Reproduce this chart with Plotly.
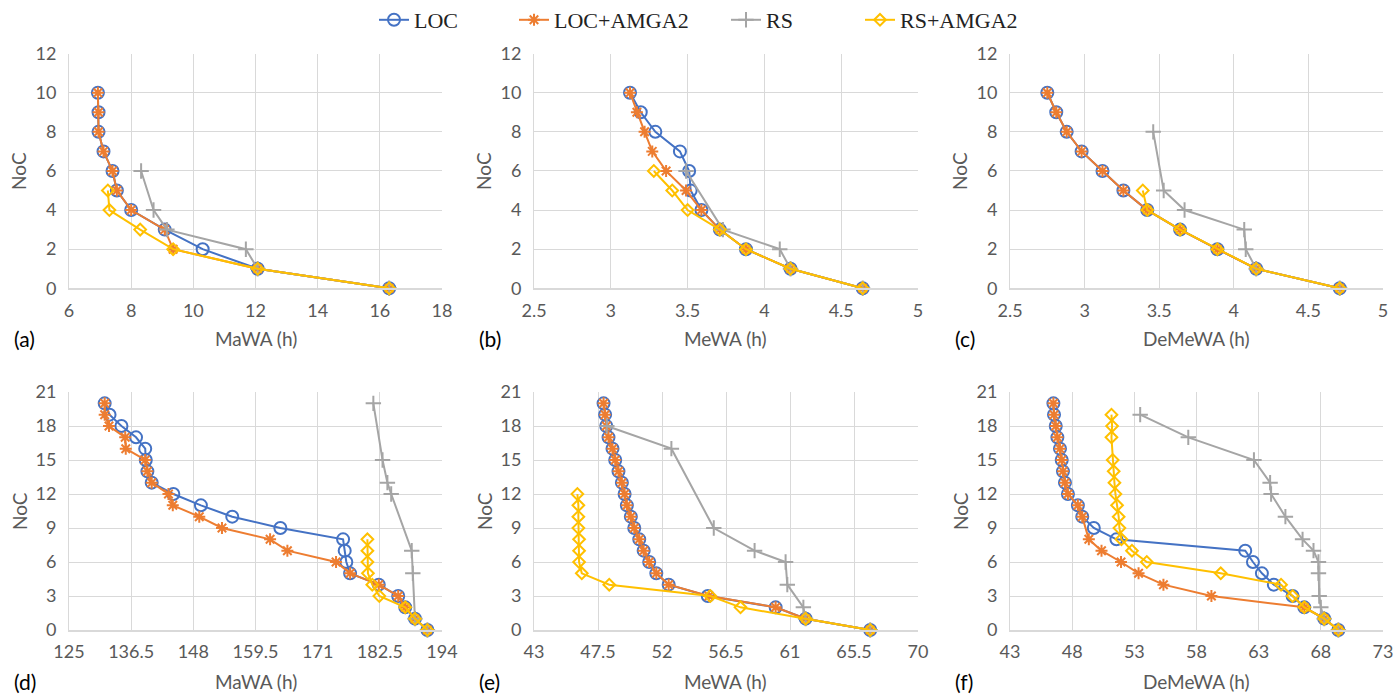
import plotly.graph_objects as go

# ---------------- data ----------------
# Panel (a): MaWA (h), top row
a_loc_y = [10, 9, 8, 7, 6, 5, 4, 3, 2, 1, 0]
a_loc_x = [6.93, 6.95, 6.95, 7.11, 7.40, 7.54, 8.0, 9.08, 10.30, 12.07, 16.3]
a_locam_y = [10, 9, 8, 7, 6, 5, 4, 3, 2, 1, 0]
a_locam_x = [6.93, 6.95, 6.95, 7.11, 7.40, 7.54, 8.0, 9.08, 9.35, 12.07, 16.3]
a_rs_y = [6, 4, 3, 2, 1, 0]
a_rs_x = [8.32, 8.72, 9.15, 11.69, 12.07, 16.3]
a_rsam_y = [5, 4, 3, 2, 1, 0]
a_rsam_x = [7.25, 7.30, 8.29, 9.35, 12.07, 16.3]

# Panel (b): MeWA (h), top row
b_loc_y = [10, 9, 8, 7, 6, 5, 4, 3, 2, 1, 0]
b_loc_x = [3.125, 3.195, 3.29, 3.45, 3.51, 3.52, 3.59, 3.71, 3.88, 4.17, 4.64]
b_locam_y = [10, 9, 8, 7, 6, 5, 4, 3, 2, 1, 0]
b_locam_x = [3.125, 3.17, 3.22, 3.27, 3.36, 3.49, 3.59, 3.71, 3.88, 4.17, 4.64]
b_rs_y = [6, 3, 2, 1, 0]
b_rs_x = [3.49, 3.73, 4.10, 4.17, 4.64]
b_rsam_y = [6, 5, 4, 3, 2, 1, 0]
b_rsam_x = [3.28, 3.40, 3.50, 3.71, 3.88, 4.17, 4.64]

# Panel (c): DeMeWA (h), top row
c_loc_y = [10, 9, 8, 7, 6, 5, 4, 3, 2, 1, 0]
c_loc_x = [2.75, 2.81, 2.88, 2.98, 3.12, 3.26, 3.42, 3.64, 3.89, 4.15, 4.71]
c_locam_y = [10, 9, 8, 7, 6, 5, 4, 3, 2, 1, 0]
c_locam_x = [2.75, 2.81, 2.88, 2.98, 3.12, 3.26, 3.42, 3.64, 3.89, 4.15, 4.71]
c_rs_y = [8, 5, 4, 3, 2, 1, 0]
c_rs_x = [3.46, 3.53, 3.67, 4.07, 4.08, 4.15, 4.71]
c_rsam_y = [5, 4, 3, 2, 1, 0]
c_rsam_x = [3.39, 3.42, 3.64, 3.89, 4.15, 4.71]

# Panel (d): MaWA (h), bottom row
d_loc_y = list(range(20, -1, -1))
d_loc_x = [131.6, 132.5, 134.7, 137.4, 139.1, 139.2, 139.5, 140.3, 144.3, 149.4, 155.2,
           164.1, 175.7, 176.0, 176.3, 177.0, 182.3, 185.9, 187.2, 189.0, 191.3]
d_locam_y = list(range(20, -1, -1))
d_locam_x = [131.6, 131.6, 132.4, 135.4, 135.5, 139.1, 139.5, 140.3, 143.4, 144.2, 149.1,
             153.3, 162.2, 165.4, 174.4, 177.0, 182.3, 185.9, 187.2, 189.0, 191.3]
d_rs_y = [20, 15, 13, 12, 7, 5, 1, 0]
d_rs_x = [181.3, 183.0, 183.9, 184.6, 188.4, 188.6, 189.0, 191.3]
d_rsam_y = [8, 7, 6, 5, 4, 3, 2, 1, 0]
d_rsam_x = [180.2, 180.2, 180.2, 180.3, 181.1, 182.4, 187.2, 189.0, 191.3]

# Panel (e): MeWA (h), bottom row
e_loc_y = list(range(20, -1, -1))
e_loc_x = [47.89, 48.0, 48.08, 48.24, 48.52, 48.71, 48.94, 49.18, 49.37, 49.53, 49.81,
           50.05, 50.40, 50.71, 51.1, 51.6, 52.47, 55.22, 59.99, 62.1, 66.64]
e_locam_y = list(range(20, -1, -1))
e_locam_x = [47.89, 48.0, 48.08, 48.24, 48.52, 48.71, 48.94, 49.18, 49.37, 49.53, 49.81,
             50.05, 50.40, 50.71, 51.1, 51.6, 52.47, 55.3, 59.99, 62.1, 66.64]
e_rs_y = [18, 16, 9, 7, 6, 4, 2, 1, 0]
e_rs_x = [48.12, 52.66, 55.64, 58.51, 60.69, 60.81, 61.94, 62.1, 66.64]
e_rsam_y = [12, 11, 10, 9, 8, 7, 6, 5, 4, 3, 2, 1, 0]
e_rsam_x = [46.05, 46.12, 46.12, 46.12, 46.17, 46.17, 46.17, 46.36, 48.29, 55.4, 57.52, 62.1, 66.64]

# Panel (f): DeMeWA (h), bottom row
f_loc_y = list(range(20, -1, -1))
f_loc_x = [46.49, 46.54, 46.68, 46.81, 47.02, 47.16, 47.26, 47.42, 47.66, 48.46, 48.81,
           49.74, 51.56, 61.92, 62.54, 63.26, 64.22, 65.73, 66.67, 68.27, 69.41]
f_locam_y = [20, 19, 18, 17, 16, 15, 14, 13, 12, 11, 10, 8, 7, 6, 5, 4, 3, 2, 1, 0]
f_locam_x = [46.49, 46.54, 46.68, 46.81, 47.02, 47.16, 47.26, 47.42, 47.66, 48.46, 48.81,
             49.34, 50.36, 51.93, 53.34, 55.34, 59.2, 66.67, 68.27, 69.41]
f_rs_y = [19, 17, 15, 13, 12, 10, 8, 7, 6, 5, 3, 2, 1, 0]
f_rs_x = [53.47, 57.34, 62.62, 63.92, 64.0, 65.15, 66.53, 67.41, 67.81, 67.81, 67.87, 68.0, 68.27, 69.41]
f_rsam_y = [19, 18, 17, 15, 14, 13, 12, 11, 10, 9, 8, 7, 6, 5, 4, 3, 2, 1, 0]
f_rsam_x = [51.16, 51.21, 51.16, 51.26, 51.34, 51.4, 51.48, 51.61, 51.74, 51.8, 51.96,
            52.81, 54.0, 59.95, 64.8, 65.73, 66.67, 68.27, 69.41]

series_names = ["LOC", "LOC+AMGA2", "RS", "RS+AMGA2"]
x_titles = ["MaWA (h)", "MeWA (h)", "DeMeWA (h)", "MaWA (h)", "MeWA (h)", "DeMeWA (h)"]
panel_labels = ["(a)", "(b)", "(c)", "(d)", "(e)", "(f)"]
x_ranges = [(6, 18, 2), (2.5, 5, 0.5), (2.5, 5, 0.5), (125, 194, 11.5), (43, 70, 4.5), (43, 73, 5)]
y_ranges = [(0, 12, 2)] * 3 + [(0, 21, 3)] * 3

panels = [
    [(a_loc_x, a_loc_y), (a_locam_x, a_locam_y), (a_rs_x, a_rs_y), (a_rsam_x, a_rsam_y)],
    [(b_loc_x, b_loc_y), (b_locam_x, b_locam_y), (b_rs_x, b_rs_y), (b_rsam_x, b_rsam_y)],
    [(c_loc_x, c_loc_y), (c_locam_x, c_locam_y), (c_rs_x, c_rs_y), (c_rsam_x, c_rsam_y)],
    [(d_loc_x, d_loc_y), (d_locam_x, d_locam_y), (d_rs_x, d_rs_y), (d_rsam_x, d_rsam_y)],
    [(e_loc_x, e_loc_y), (e_locam_x, e_locam_y), (e_rs_x, e_rs_y), (e_rsam_x, e_rsam_y)],
    [(f_loc_x, f_loc_y), (f_locam_x, f_locam_y), (f_rs_x, f_rs_y), (f_rsam_x, f_rsam_y)],
]

# ---------------- styles ----------------
W, H = 1398, 696
TOP = 44  # top margin (pixels) holding the legend
PH = H - TOP
colors = ["#4472C4", "#ED7D31", "#A5A5A5", "#FFC000"]
symbols = ["circle-open", "asterisk-open", "cross-thin-open", "diamond-open"]
msizes = [12, 10, 11, 9]
legend_ids = ["legend", "legend2", "legend3", "legend4"]
legend_text_start = [419, 559, 771, 905]

col_px = [(69, 442), (534, 918), (1010, 1383)]
row_px = [(53.6, 288.3), (392, 630)]


def px_x(x):
    return x / W


def px_y(y):
    return 1 - (y - TOP) / PH


def xdom(c):
    return [px_x(col_px[c][0]), px_x(col_px[c][1])]


def ydom(r):
    return [px_y(row_px[r][1]), px_y(row_px[r][0])]


fig = go.Figure()
grid = "#D9D9D9"
tickfont = dict(family="Lato", size=18, color="#595959")

layout = dict(width=W, height=H, margin=dict(l=0, r=0, t=TOP, b=0, autoexpand=False),
              plot_bgcolor="white", paper_bgcolor="white", annotations=[])

for p in range(6):
    r, c = divmod(p, 3)
    ax = "" if p == 0 else str(p + 1)
    for s in range(4):
        xs, ys = panels[p][s]
        fig.add_trace(go.Scatter(
            x=xs, y=ys, mode="lines+markers", name=series_names[s],
            xaxis="x" + ax, yaxis="y" + ax,
            line=dict(color=colors[s], width=2),
            marker=dict(symbol=symbols[s], size=msizes[s], color=colors[s],
                        line=dict(color=colors[s], width=2)),
            showlegend=(p == 0), legend=legend_ids[s], cliponaxis=False,
        ))
    x0, x1, dx = x_ranges[p]
    y0, y1, dy = y_ranges[p]
    layout["xaxis" + ax] = dict(domain=xdom(c), anchor="y" + ax, range=[x0, x1],
                                tick0=x0, dtick=dx, showgrid=True, gridcolor=grid,
                                showline=True, linecolor=grid, linewidth=1.5,
                                zeroline=False, ticks="", tickfont=tickfont,
                                ticklabelstandoff=5, automargin=False)
    layout["yaxis" + ax] = dict(domain=ydom(r), anchor="x" + ax, range=[y0, y1],
                                tick0=y0, dtick=dy, showgrid=True, gridcolor=grid,
                                showline=True, linecolor=grid, linewidth=1,
                                zeroline=False, ticks="", tickfont=tickfont,
                                ticklabelstandoff=8, automargin=False)
    # x-axis title
    cx = (col_px[c][0] + col_px[c][1]) / 2
    ty = 338 if r == 0 else 681
    layout["annotations"].append(dict(
        text=x_titles[p], x=px_x(cx), y=px_y(ty), xref="paper", yref="paper",
        xanchor="center", yanchor="middle", showarrow=False,
        font=dict(family="Lato", size=19, color="#595959")))
    # y-axis title
    nx = col_px[c][0] - 50
    ny = (row_px[r][0] + row_px[r][1]) / 2
    layout["annotations"].append(dict(
        text="NoC", x=px_x(nx), y=px_y(ny), xref="paper", yref="paper",
        xanchor="center", yanchor="middle", showarrow=False, textangle=-90,
        font=dict(family="Lato", size=19, color="#595959")))
    # panel label
    lx = col_px[c][0] - 57
    layout["annotations"].append(dict(
        text=panel_labels[p], x=px_x(lx), y=px_y(ty), xref="paper", yref="paper",
        xanchor="left", yanchor="middle", showarrow=False,
        font=dict(family="Lato", size=21, color="black")))

for i, lid in enumerate(legend_ids):
    layout[lid] = dict(x=(legend_text_start[i] - 45) / W, y=px_y(20),
                       xanchor="left", yanchor="middle", orientation="h",
                       bgcolor="rgba(0,0,0,0)",
                       font=dict(family="Liberation Serif", size=22, color="#222222"))

fig.update_layout(**layout)
fig.write_html("out.html", config={"displayModeBar": False},
               post_script="document.body.style.margin='0';document.body.style.padding='0';")
